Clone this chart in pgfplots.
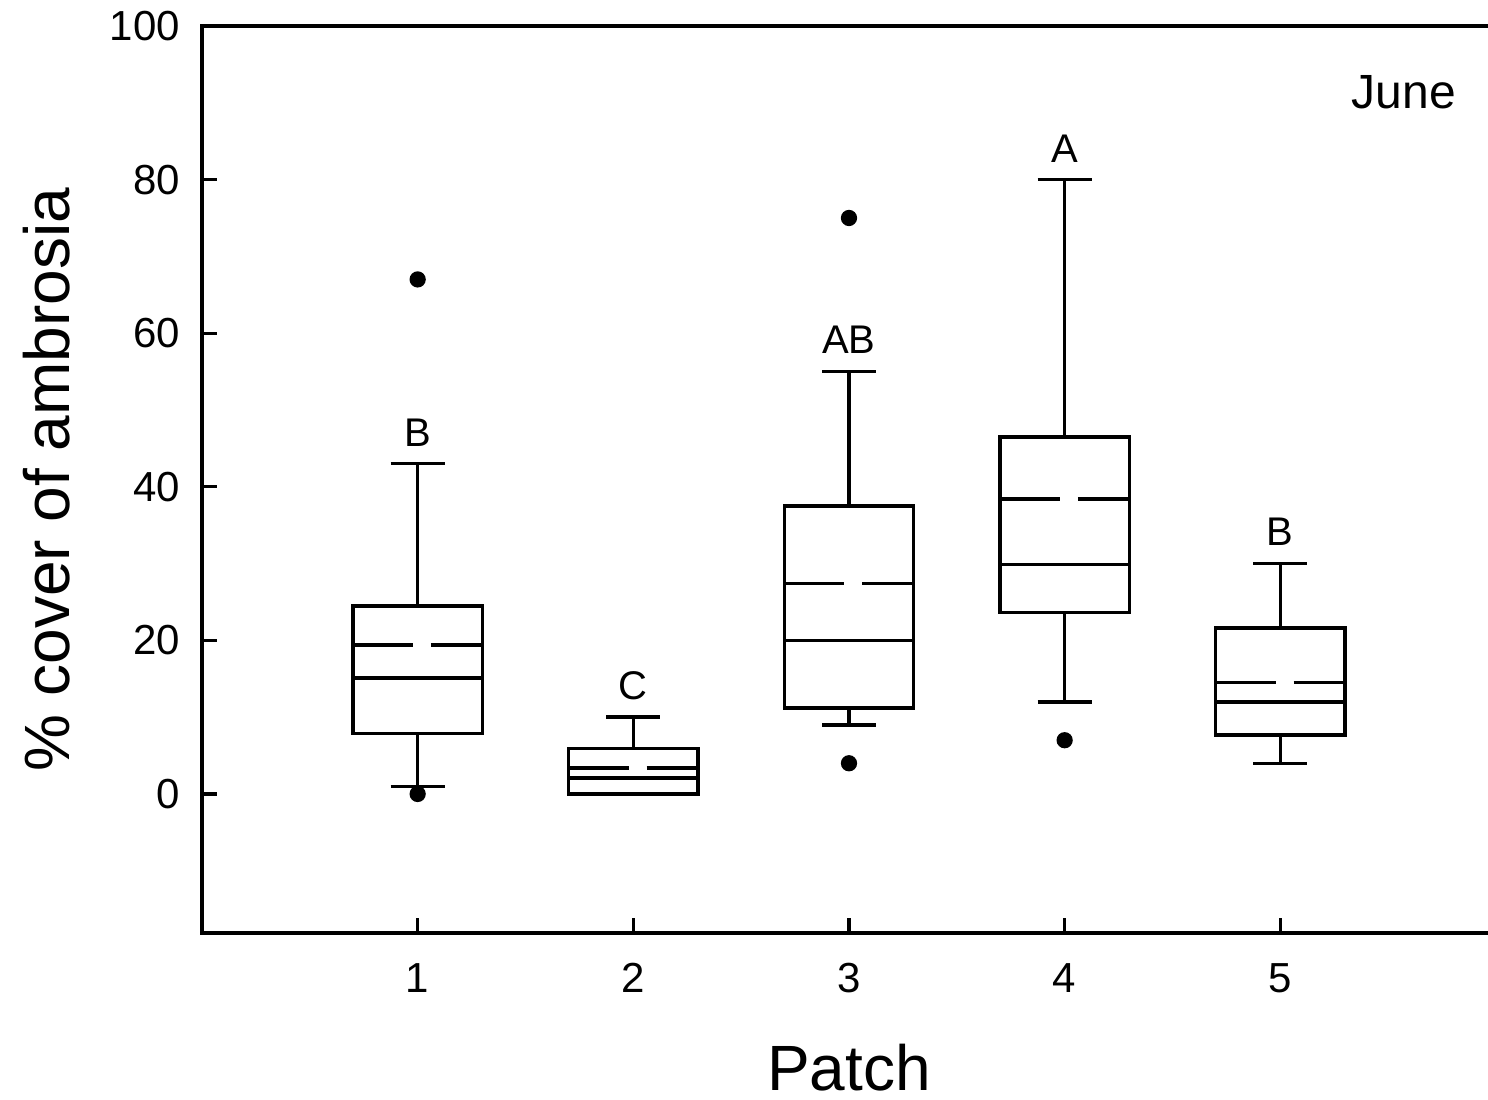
\documentclass[border=0pt]{standalone}
\usepackage{fontspec}
\setmainfont{Liberation Sans}
\usepackage{pgfplots}
\pgfplotsset{compat=1.18}
\usepgfplotslibrary{statistics}

\begin{document}
\begin{tikzpicture}
\useasboundingbox (-50.5pt,-41.75pt) rectangle (321.5pt,233.25pt);
\begin{axis}[
    scale only axis,
    width=323.5pt, height=226.75pt,
    xmin=0, xmax=6, ymin=-18.1, ymax=100,
    xtick={1,2,3,4,5}, ytick={0,20,40,60,80,100},
    xtick pos=bottom, ytick pos=left,
    tick align=inside, major tick length=3.75pt,
    axis line style={line width=0.9pt},
    every tick/.style={black, line width=0.8pt},
    /pgf/number format/assume math mode=true,
    tick label style={font=\fontsize{10.5}{12}\selectfont},
    xticklabel style={yshift=-4pt},
    yticklabel style={xshift=-2pt},
    xlabel={Patch},
    label style={font=\fontsize{16}{19}\selectfont},
    xlabel style={at={(rel axis cs:0.5,0)}, anchor=base, yshift=-39.5pt},
    boxplot/draw direction=y,
    boxplot/box extend=0.6,
    boxplot/whisker extend=0.25,
    box/.style={black, solid, line width=0.85pt, mark=*, mark size=1.6pt},
    clip=false,
]
% boxes: whiskers, quartiles, median; outliers as table rows
\addplot[box, boxplot prepared={draw position=1, lower whisker=1, lower quartile=7.9,
        median=15.1, upper quartile=24.5, upper whisker=43}]
    table[row sep=\\, y index=0] {y\\0\\67\\};
\addplot[box, boxplot prepared={draw position=2, lower whisker=0, lower quartile=0,
        median=2.1, upper quartile=5.9, upper whisker=10}]
    coordinates {};
\addplot[box, boxplot prepared={draw position=3, lower whisker=9, lower quartile=11.2,
        median=20, upper quartile=37.5, upper whisker=55}]
    table[row sep=\\, y index=0] {y\\4\\75\\};
\addplot[box, boxplot prepared={draw position=4, lower whisker=12, lower quartile=23.6,
        median=29.9, upper quartile=46.5, upper whisker=80}]
    table[row sep=\\, y index=0] {y\\7\\};
\addplot[box, boxplot prepared={draw position=5, lower whisker=4, lower quartile=7.7,
        median=12, upper quartile=21.6, upper whisker=30}]
    coordinates {};
% means (dashed)
\pgfplotsset{meanline/.style={black, line width=0.85pt, dash pattern=on 15pt off 4.5pt on 20pt}}
\addplot[meanline] coordinates {(0.7,19.4) (1.3,19.4)};
\addplot[meanline] coordinates {(1.7,3.4) (2.3,3.4)};
\addplot[meanline] coordinates {(2.7,27.4) (3.3,27.4)};
\addplot[meanline] coordinates {(3.7,38.4) (4.3,38.4)};
\addplot[meanline] coordinates {(4.7,14.5) (5.3,14.5)};
% group letters
\begin{scope}[every node/.style={font=\fontsize{10}{12}\selectfont, anchor=base}]
\node at (axis cs:1,45.3) {B};
\node at (axis cs:2,12.3) {C};
\node at (axis cs:3,57.3) {AB};
\node at (axis cs:4,82.2) {A};
\node at (axis cs:5,32.3) {B};
\end{scope}
\node[anchor=base east, font=\fontsize{12}{14}\selectfont] at (axis cs:5.88,89.3) {June};
\node[font=\fontsize{16}{19}\selectfont, anchor=center, xshift=-38.75pt, rotate=90]
    at (rel axis cs:0,0.5) {\% cover of ambrosia};
\end{axis}
\end{tikzpicture}
\end{document}
